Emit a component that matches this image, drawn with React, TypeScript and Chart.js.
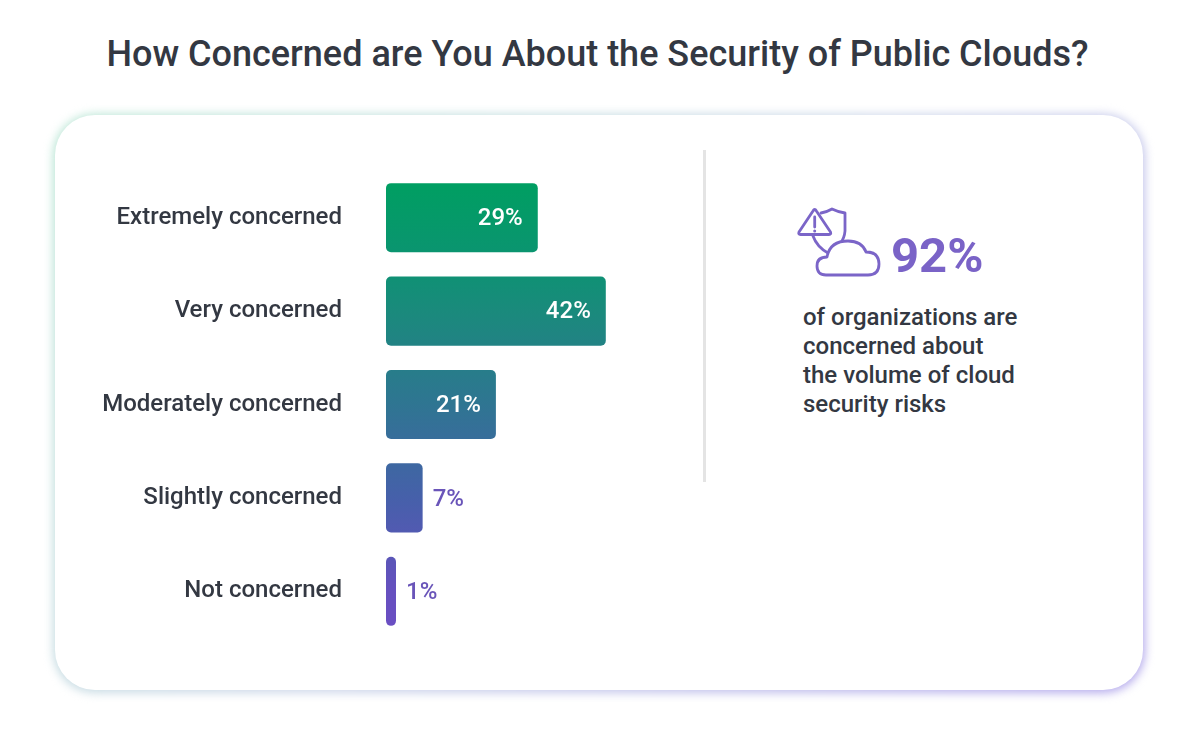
import { useEffect, useRef } from 'react'
import { Chart, BarController, BarElement, CategoryScale, LinearScale } from 'chart.js'

Chart.register(BarController, BarElement, CategoryScale, LinearScale);

const categories = ['Extremely concerned', 'Very concerned', 'Moderately concerned', 'Slightly concerned', 'Not concerned'];
const shares = [29, 42, 21, 7, 1];
const headline = '92%';
const blurbLines = ['of organizations are', 'concerned about', 'the volume of cloud', 'security risks'];

const FONT = 'Roboto, "Noto Sans", sans-serif';
const INK = '#333842';
const PURPLE = '#6a55b9';

// ── value labels: white inside long bars, purple beside short ones ──
const valueLabels = {
  id: 'valueLabels',
  afterDatasetsDraw(chart: Chart) {
    const { ctx } = chart;
    const meta = chart.getDatasetMeta(0);
    ctx.save();
    ctx.font = `500 24px ${FONT}`;
    ctx.textBaseline = 'middle';
    meta.data.forEach((bar: any, i: number) => {
      const v = shares[i];
      const txt = `${v}%`;
      if (v >= 15) {
        ctx.fillStyle = '#ffffff';
        ctx.textAlign = 'right';
        ctx.fillText(txt, bar.x - 15, bar.y + 1);
      } else {
        ctx.fillStyle = PURPLE;
        ctx.textAlign = 'left';
        ctx.fillText(txt, bar.x + 10, bar.y + 2);
      }
    });
    ctx.restore();
  },
};

function barGradient(ctx: any) {
  const area = ctx.chart.chartArea;
  if (!area) return '#1a8a7c';
  const g = ctx.chart.ctx.createLinearGradient(0, area.top, 0, area.bottom);
  g.addColorStop(0.03, '#009e62');
  g.addColorStop(0.2, '#0c9372');
  g.addColorStop(0.3, '#1a8a7c');
  g.addColorStop(0.5, '#2f7592');
  g.addColorStop(0.7, '#4660aa');
  g.addColorStop(0.9, '#6650bf');
  g.addColorStop(1, '#6c4ec4');
  return g;
}

function CloudIcon() {
  const s = { fill: 'none', stroke: '#7b65c8', strokeWidth: 2.8, strokeLinejoin: 'round' as const, strokeLinecap: 'round' as const };
  return (
    <svg width={95} height={85} viewBox="0 0 95 85" style={{ position: 'absolute', left: 792, top: 200 }}>
      {/* shield */}
      <path d="M29 13 Q35 12 40 9 Q46 12 53 13 L53 31 Q52 45 36 53 Q25 47 21 36" {...s} />
      {/* warning triangle */}
      <path d="M21 11 Q22.7 8 24.4 11 L38.5 32 Q39.5 34.5 37 34.5 L8.5 34.5 Q6 34.5 7 32 Z" {...s} fill="#fff" />
      <line x1={22.7} y1={17} x2={22.7} y2={27} {...s} />
      <circle cx={22.7} cy={31} r={1.5} fill="#7b65c8" />
      {/* cloud */}
      <path d="M34 75 Q25 75 25 66 Q25 57 35 57 Q38 41 56 41 Q70 41 74 52 Q87 52 87 64 Q87 75 76 75 Z" {...s} fill="#fff" />
    </svg>
  );
}

export default function App() {
  const canvasRef = useRef<HTMLCanvasElement>(null);
  const chartRef = useRef<Chart | null>(null);

  useEffect(() => {
    if (!canvasRef.current) return;
    chartRef.current?.destroy();
    chartRef.current = new Chart(canvasRef.current, {
      type: 'bar',
      data: {
        labels: categories,
        datasets: [{
          data: shares,
          backgroundColor: barGradient,
          borderRadius: 5,
          borderSkipped: false,
          categoryPercentage: 1,
          barPercentage: 0.74,
          minBarLength: 10,
        }],
      },
      options: {
        indexAxis: 'y',
        animation: false,
        responsive: true,
        maintainAspectRatio: false,
        layout: { padding: 0 },
        plugins: { legend: { display: false }, tooltip: { enabled: false } },
        scales: {
          x: { display: false, min: 0, max: 60 },
          y: {
            // fixed gutter so bars start at the same x as the reference; drop the tick padding the axis adds above/below
            afterFit: (scale: any) => { scale.width = 326; scale.paddingTop = 0; scale.paddingBottom = 0; },
            border: { display: false },
            grid: { display: false, drawTicks: false },
            ticks: { color: INK, padding: 44, font: { family: FONT, size: 24, weight: 500 } },
          },
        },
      },
      plugins: [valueLabels],
    });
    return () => { chartRef.current?.destroy(); chartRef.current = null; };
  }, []);

  return (
    <div style={{ position: 'absolute', left: 0, top: 0, width: 1201, height: 741, background: '#fff', overflow: 'hidden', fontFamily: FONT }}>
      <div style={{ position: 'absolute', left: 0, top: 33, width: 1195, textAlign: 'center', fontSize: 36, fontWeight: 500, color: INK }}>
        How Concerned are You About the Security of Public Clouds?
      </div>
      {/* card glow */}
      <div style={{ position: 'absolute', left: 53, top: 114, width: 1092, height: 579, borderRadius: 42, background: 'linear-gradient(135deg, #b9e6d4 0%, #cfd8ea 50%, #b3a8ec 100%)', filter: 'blur(5px)' }} />
      <div style={{ position: 'absolute', left: 55, top: 115, width: 1088, height: 575, borderRadius: 40, background: '#fff' }} />
      <div style={{ position: 'absolute', left: 60, top: 171, width: 640, height: 467 }}>
        <canvas ref={canvasRef} />
      </div>
      <div style={{ position: 'absolute', left: 703, top: 150, width: 2.5, height: 332, background: '#e4e4e4' }} />
      <CloudIcon />
      <div style={{ position: 'absolute', left: 891, top: 227, fontSize: 49, fontWeight: 700, color: '#7a63c7', lineHeight: '58px' }}>{headline}</div>
      <div style={{ position: 'absolute', left: 803, top: 303, fontSize: 24, fontWeight: 500, lineHeight: '29px', color: INK }}>
        {blurbLines.map((l) => <div key={l}>{l}</div>)}
      </div>
    </div>
  );
}
